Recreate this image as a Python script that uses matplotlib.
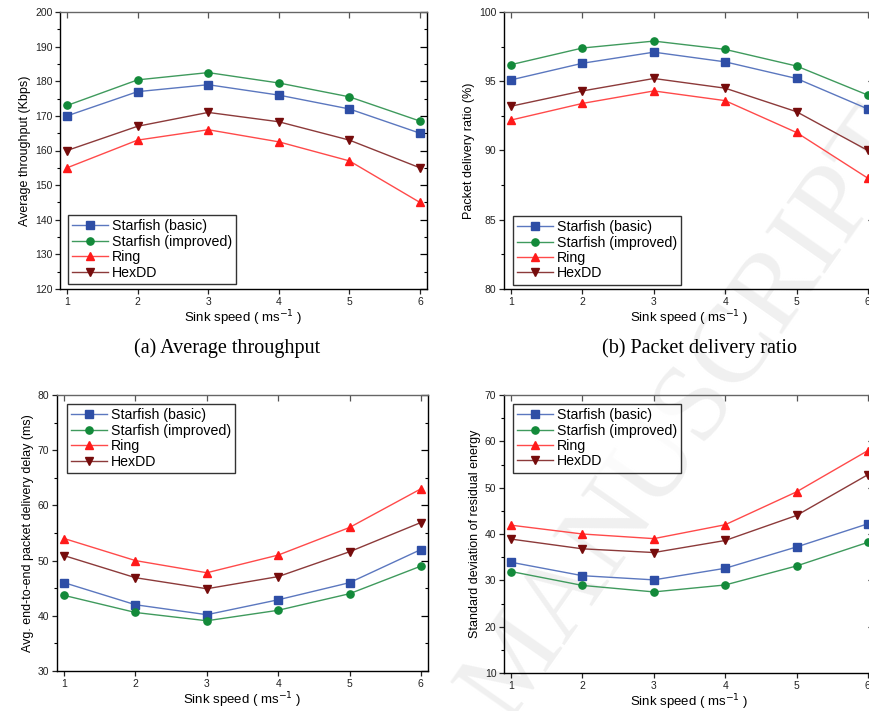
import matplotlib
matplotlib.use("Agg")
import matplotlib.pyplot as plt
from matplotlib.ticker import MultipleLocator, NullFormatter

plt.rcParams["font.family"] = ["Liberation Sans", "DejaVu Sans"]

speeds = [1, 2, 3, 4, 5, 6]
series_names = ["Starfish (basic)", "Starfish (improved)", "Ring", "HexDD"]

throughput_basic = [170, 177, 179, 176, 172, 165]
throughput_improved = [173, 180.4, 182.5, 179.5, 175.5, 168.5]
throughput_ring = [155, 163, 166, 162.5, 157, 145]
throughput_hexdd = [160, 167, 171, 168.3, 163, 155]

pdr_basic = [95.1, 96.3, 97.1, 96.4, 95.2, 93.0]
pdr_improved = [96.2, 97.4, 97.9, 97.3, 96.1, 94.0]
pdr_ring = [92.2, 93.4, 94.3, 93.6, 91.3, 88.0]
pdr_hexdd = [93.2, 94.3, 95.2, 94.5, 92.8, 90.0]

delay_basic = [46.0, 42.0, 40.2, 42.9, 46.0, 52.0]
delay_improved = [43.7, 40.6, 39.1, 41.0, 44.0, 49.0]
delay_ring = [54.0, 50.0, 47.8, 51.0, 56.0, 63.0]
delay_hexdd = [50.9, 46.9, 44.9, 47.1, 51.6, 56.9]

energy_basic = [33.9, 31.0, 30.1, 32.6, 37.2, 42.2]
energy_improved = [31.9, 28.9, 27.5, 29.0, 33.1, 38.2]
energy_ring = [41.9, 40.0, 39.0, 42.0, 49.1, 58.0]
energy_hexdd = [38.9, 36.8, 36.0, 38.6, 44.0, 52.8]

marker_colors = ["#2e4ea6", "#138a3a", "#ff1a1a", "#760c0c"]
line_colors = ["#5b77bf", "#3f9a5d", "#ff4a4a", "#8c3a3a"]
markers = ["s", "o", "^", "v"]

W, H = 870, 711
fig = plt.figure(figsize=(W / 100, H / 100), dpi=100)

# faint watermark
fig.text(690 / W, 1 - 415 / H, "MANUSCRIPT", family="Liberation Serif",
         fontsize=80, color="#f0f0f0", rotation=55, ha="center", va="center",
         rotation_mode="anchor", zorder=-5)

def rect(l, t, r, b):
    return [l / W, 1 - b / H, (r - l) / W, (b - t) / H]

panels = [
    dict(pos=rect(60, 12, 427, 289), data=[throughput_basic, throughput_improved, throughput_ring, throughput_hexdd],
         ylim=(120, 200), major=10, minor=5, ylabel="Average throughput (Kbps)",
         leg=(0.022, 0.267)),
    dict(pos=rect(504, 12, 875, 289), data=[pdr_basic, pdr_improved, pdr_ring, pdr_hexdd],
         ylim=(80, 100), major=5, minor=2.5, ylabel="Packet delivery ratio (%)",
         leg=(0.024, 0.264)),
    dict(pos=rect(57, 395, 428, 671), data=[delay_basic, delay_improved, delay_ring, delay_hexdd],
         ylim=(30, 80), major=10, minor=5, ylabel="Avg. end-to-end packet delivery delay (ms)",
         leg=(0.027, 0.967)),
    dict(pos=rect(504, 395, 875, 673), data=[energy_basic, energy_improved, energy_ring, energy_hexdd],
         ylim=(10, 70), major=10, minor=5, ylabel="Standard deviation of residual energy",
         leg=(0.024, 0.968)),
]

for p in panels:
    ax = fig.add_axes(p["pos"])
    ax.set_facecolor("none")
    for vals, name, mc, lc, mk in zip(p["data"], series_names, marker_colors, line_colors, markers):
        ax.plot(speeds, vals, color=lc, lw=1.0, marker=mk, markersize=5.2,
                markerfacecolor=mc, markeredgecolor=mc, label=name)
    ax.set_xlim(0.9, 6.1)
    ax.set_ylim(*p["ylim"])
    ax.set_xticks(speeds)
    ax.yaxis.set_major_locator(MultipleLocator(p["major"]))
    ax.yaxis.set_minor_locator(MultipleLocator(p["minor"]))
    ax.tick_params(axis="both", which="major", labelsize=7.5, length=3.5, width=0.9,
                   pad=2, direction="out", colors="#222222", labelcolor="#222222")
    ax.tick_params(axis="y", which="minor", length=2, width=0.8, direction="out")
    for s in ax.spines.values():
        s.set_linewidth(1.0)
    ax.spines["top"].set_color("#666666")

    top = ax.secondary_xaxis("top")
    top.set_xticks(speeds)
    top.xaxis.set_major_formatter(NullFormatter())
    top.tick_params(direction="in", length=4, width=0.9, colors="#555555")
    top.spines["top"].set_visible(False)

    right = ax.secondary_yaxis("right")
    right.yaxis.set_major_locator(MultipleLocator(p["major"]))
    right.yaxis.set_minor_locator(MultipleLocator(p["minor"]))
    right.yaxis.set_major_formatter(NullFormatter())
    right.yaxis.set_minor_formatter(NullFormatter())
    right.tick_params(which="major", direction="in", length=5, width=0.9)
    right.tick_params(which="minor", direction="in", length=2.5, width=0.8)
    right.spines["right"].set_visible(False)

    ax.set_xlabel("Sink speed ( ms$^{-1}$ )", fontsize=9.5, labelpad=1)
    ax.set_ylabel(p["ylabel"], fontsize=9, labelpad=3)
    leg = ax.legend(loc="upper left", bbox_to_anchor=p["leg"], borderaxespad=0,
                    fontsize=10.2, frameon=True, fancybox=False, edgecolor="black",
                    handlelength=2.5, handletextpad=0.3, labelspacing=0.1,
                    borderpad=0.3)
    leg.get_frame().set_linewidth(1.0)

fig.text(227 / W, 1 - 348 / H, "(a) Average throughput", family="Liberation Serif",
         fontsize=14.5, ha="center", va="center")
fig.text(700 / W, 1 - 348 / H, "(b) Packet delivery ratio", family="Liberation Serif",
         fontsize=14.5, ha="center", va="center")

fig.savefig("out.png", dpi=100)
